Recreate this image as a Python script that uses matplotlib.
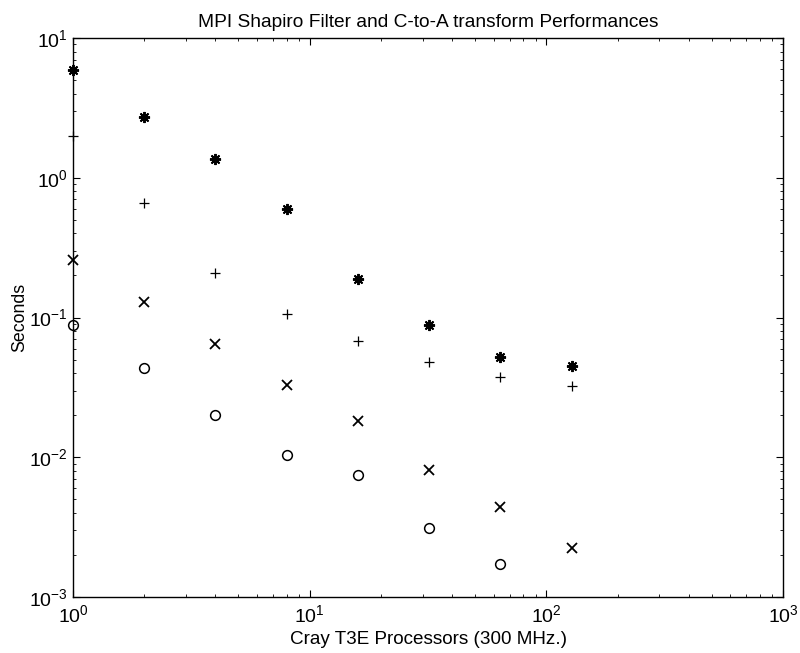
import numpy as np
import matplotlib
matplotlib.use("Agg")
import matplotlib.pyplot as plt

plt.rcParams.update({
    "font.family": ["Liberation Sans", "DejaVu Sans"],
    "mathtext.fontset": "custom",
    "mathtext.rm": "Liberation Sans",
    "mathtext.it": "Liberation Sans",
    "font.size": 13.5,
    "xtick.direction": "in",
    "ytick.direction": "in",
    "xtick.top": True,
    "ytick.right": True,
    "xtick.major.size": 5,
    "ytick.major.size": 5,
    "xtick.minor.size": 2.5,
    "ytick.minor.size": 2.5,
    "axes.linewidth": 1.0,
})

# processor counts
procs = [1, 2, 4, 8, 16, 32, 64, 128]
procs_circle = [1, 2, 4, 8, 16, 32, 64]

# timings in seconds
t_star = [5.87, 2.70, 1.36, 0.597, 0.189, 0.089, 0.052, 0.045]
t_plus = [2.0, 0.66, 0.207, 0.106, 0.0675, 0.0477, 0.0375, 0.0323]
t_cross = [0.258, 0.129, 0.0649, 0.033, 0.0181, 0.00804, 0.00437, 0.00226]
t_circle = [0.0885, 0.0432, 0.0200, 0.0103, 0.0075, 0.0031, 0.00171]

fig = plt.figure(figsize=(8.0, 6.53), dpi=100)
ax = fig.add_axes([73 / 800, 1 - 597 / 653, 710 / 800, 559 / 653])

ax.loglog(procs, t_star, ls="none", marker=(8, 2, 0), ms=8, mew=1.4,
          color="black", clip_on=False)
ax.loglog(procs, t_plus, ls="none", marker="+", ms=6.7, mew=0.9,
          color="black", clip_on=False)
ax.loglog(procs, t_cross, ls="none", marker="x", ms=7, mew=1.3,
          color="black", clip_on=False)
ax.loglog(procs_circle, t_circle, ls="none", marker="o", ms=7, mew=1.1,
          mfc="none", color="black", clip_on=False)

ax.set_xlim(1, 1000)
ax.set_ylim(1e-3, 10)
ax.tick_params(axis="both", which="major", labelsize=14)
ax.tick_params(axis="x", which="major", pad=5)
ax.tick_params(axis="y", which="major", pad=3.5)

ax.set_title("MPI Shapiro Filter and C-to-A transform Performances",
             fontsize=13.8, pad=8)
ax.set_xlabel("Cray T3E Processors (300 MHz.)", fontsize=13.6, labelpad=4)
ax.set_ylabel("Seconds", fontsize=12.8, labelpad=1)

fig.savefig("out.png", dpi=100)
